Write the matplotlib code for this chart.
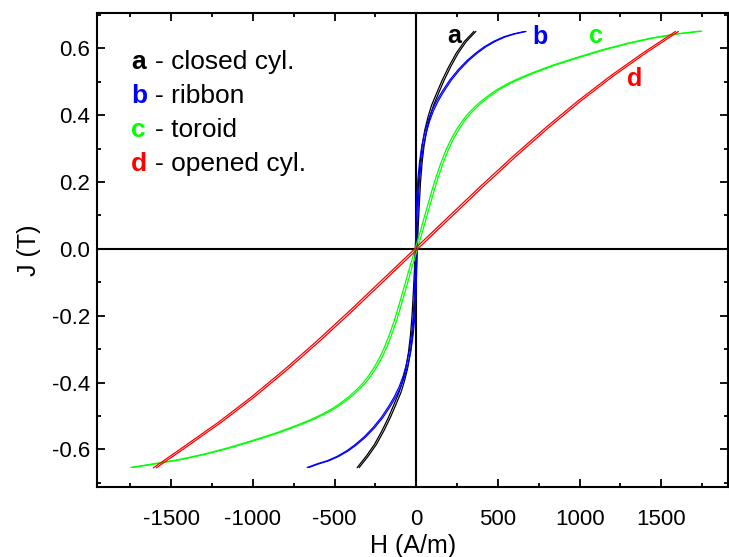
import matplotlib
matplotlib.use("Agg")
import matplotlib.pyplot as plt
from matplotlib.ticker import MultipleLocator

plt.rcParams["font.family"] = ["Liberation Sans", "DejaVu Sans"]
plt.rcParams["axes.unicode_minus"] = False

# ----------------------------------------------------------------------
# Data: H (A/m) and J (T), one branch per sample,
# the loop half-width hc (A/m) gives the second branch.
# ----------------------------------------------------------------------
a_h = [-355, -300, -250, -205, -165, -130, -100, -78, -58, -42, -30, -20, -12, -5, 0,
       5, 12, 20, 30, 42, 58, 78, 100, 130, 165, 205, 250, 300, 358]
a_j = [-0.654, -0.62, -0.585, -0.545, -0.505, -0.465, -0.43, -0.395, -0.355, -0.31, -0.26,
       -0.2, -0.13, -0.06, 0.0,
       0.06, 0.13, 0.2, 0.26, 0.31, 0.355, 0.395, 0.43, 0.465, 0.505, 0.545, 0.585, 0.62, 0.65]
a_hc = 6

b_h = [-662, -600, -540, -480, -420, -370, -315, -260, -210, -165, -130, -100, -75, -55,
       -38, -25, -15, -8, -3, 0,
       3, 8, 15, 25, 38, 55, 75, 100, 130, 165, 210, 260, 315, 370, 420, 480, 540, 600, 666]
b_j = [-0.654, -0.643, -0.634, -0.621, -0.604, -0.586, -0.563, -0.535, -0.505, -0.472,
       -0.443, -0.413, -0.38, -0.345, -0.305, -0.26, -0.21, -0.15, -0.07, 0.0,
       0.07, 0.15, 0.21, 0.26, 0.305, 0.345, 0.38, 0.413, 0.443, 0.472, 0.505, 0.535,
       0.563, 0.586, 0.604, 0.621, 0.634, 0.643, 0.65]
b_hc = 5

c_h = [-1740, -1600, -1450, -1300, -1150, -1000, -840, -720, -640, -570, -500, -450, -400,
       -360, -320, -285, -250, -220, -190, -160, -130, -100, -65, -30, 0,
       30, 65, 100, 130, 160, 190, 220, 250, 285, 320, 360, 400, 450, 500, 570, 640, 720,
       840, 1000, 1150, 1300, 1450, 1600, 1740]
c_j = [-0.654, -0.643, -0.631, -0.615, -0.596, -0.574, -0.549, -0.527, -0.511, -0.495,
       -0.476, -0.459, -0.44, -0.422, -0.402, -0.38, -0.354, -0.328, -0.297, -0.26, -0.218,
       -0.17, -0.11, -0.05, 0.0,
       0.05, 0.11, 0.17, 0.218, 0.26, 0.297, 0.328, 0.354, 0.38, 0.402, 0.422, 0.44, 0.459,
       0.476, 0.495, 0.511, 0.527, 0.549, 0.574, 0.596, 0.615, 0.631, 0.643, 0.651]
c_hc = 7

d_h = [-1600, -1400, -1200, -1000, -800, -600, -400, -200, 0,
       200, 400, 600, 800, 1000, 1200, 1400, 1595]
d_j = [-0.655, -0.587, -0.518, -0.443, -0.362, -0.276, -0.186, -0.093, 0.0,
       0.093, 0.186, 0.276, 0.362, 0.443, 0.518, 0.587, 0.65]
d_hc = 9

curves = [
    ("a", a_h, a_j, a_hc, "black", "closed cyl."),
    ("b", b_h, b_j, b_hc, "#0000ff", "ribbon"),
    ("c", c_h, c_j, c_hc, "#00ff00", "toroid"),
    ("d", d_h, d_j, d_hc, "#ff0000", "opened cyl."),
]

# curve tags next to the loop tips (H, J)
tag_h = [235, 757, 1100, 1335]
tag_j = [0.636, 0.633, 0.636, 0.507]

# legend rows (baseline J)
legend_j = [0.537, 0.435, 0.333, 0.233]


def main():
    fig = plt.figure(figsize=(7.29, 5.57), dpi=100)
    ax = fig.add_axes([0.133, 0.126, 0.866, 0.851])

    for (tag, h, j, hc, color, _), th, tj in zip(curves, tag_h, tag_j):
        ax.plot([v - hc for v in h], j, color=color, lw=0.9)
        ax.plot([v + hc for v in h], j, color=color, lw=0.9)
        ax.text(th, tj, tag, color=color, fontsize=18, fontweight="bold",
                ha="center", va="center")

    for (tag, _, _, _, color, name), lj in zip(curves, legend_j):
        ax.text(-1745, lj, tag, color=color, fontsize=19, fontweight="bold",
                ha="left", va="baseline")
        ax.text(-1600, lj, "- " + name, color="black", fontsize=19,
                ha="left", va="baseline")

    ax.axhline(0, color="black", lw=1.5, zorder=1)
    ax.axvline(0, color="black", lw=1.5, zorder=1)

    ax.set_xlim(-1955, 1910)
    ax.set_ylim(-0.712, 0.706)
    ax.xaxis.set_major_locator(MultipleLocator(500))
    ax.xaxis.set_minor_locator(MultipleLocator(250))
    ax.yaxis.set_major_locator(MultipleLocator(0.2))
    ax.yaxis.set_minor_locator(MultipleLocator(0.1))
    ax.yaxis.set_major_formatter(plt.FuncFormatter(lambda v, _: f"{v:.1f}"))
    ax.tick_params(which="both", direction="in", top=True, right=True,
                   width=1.3, labelsize=16)
    ax.tick_params(which="major", length=6)
    ax.tick_params(which="minor", length=3)
    ax.tick_params(axis="x", which="major", pad=16)
    ax.tick_params(axis="y", which="major", pad=5)
    for s in ax.spines.values():
        s.set_linewidth(1.5)

    ax.set_xlabel("H (A/m)", fontsize=18, labelpad=3)
    ax.set_ylabel("J (T)", fontsize=18, labelpad=8)

    fig.savefig("out.png", dpi=100)
    plt.close(fig)


if __name__ == "__main__":
    main()
